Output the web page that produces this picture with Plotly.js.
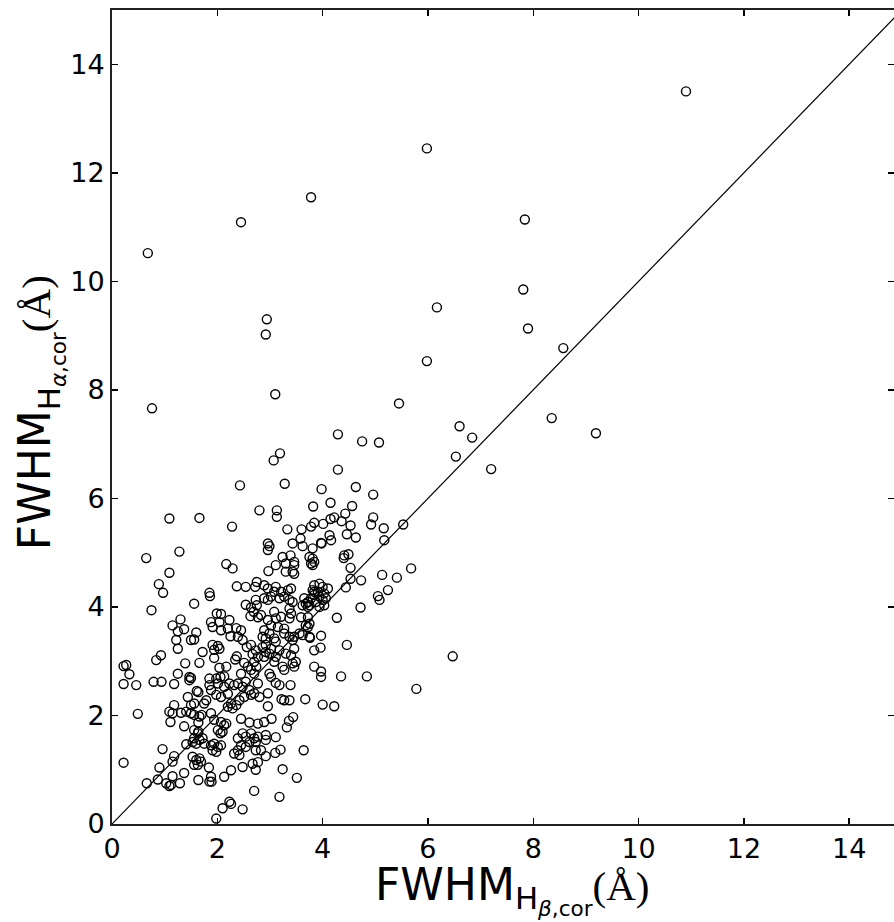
<!DOCTYPE html>
<html>
<head>
<meta charset="utf-8">
<script src="https://cdn.plot.ly/plotly-3.0.1.min.js"></script>
<style>html,body{margin:0;padding:0;background:#fff;}#chart{width:894px;height:922px;}</style>
</head>
<body>
<div id="chart"></div>
<script>
// FWHM of H-beta (corrected), Angstrom
const fwhmHb = [
10.90,5.98,3.78,2.45,7.84,0.68,7.81,6.17,2.94,2.92,7.90,8.57,5.98,3.10,5.45,0.76,8.35,9.19,6.60,6.84,
4.29,4.75,5.07,7.20,6.53,4.29,3.19,3.07,2.43,3.28,4.63,3.98,4.96,6.47,5.78,1.09,1.66,2.28,2.80,3.13,
3.13,3.82,4.15,4.56,4.43,4.96,4.15,4.22,4.01,3.84,4.36,4.53,4.92,5.16,5.53,3.33,3.60,3.78,5.68,
0.65,1.28,1.09,2.17,2.29,0.89,0.97,1.85,1.86,2.37,2.54,2.72,2.75,1.56,0.75,2.54,2.73,2.75,2.64,2.69,
2.63,2.77,1.30,1.15,1.37,1.25,1.60,1.88,1.99,2.07,2.04,1.91,2.23,2.07,2.20,2.25,2.36,2.45,2.39,2.48,
1.22,1.50,1.56,1.25,1.91,2.01,2.04,1.94,2.56,2.64,2.73,2.67,2.77,0.93,0.84,1.72,1.94,1.66,1.39,2.37,
2.34,2.51,2.58,2.70,2.74,0.27,0.22,0.33,1.25,1.47,1.50,2.04,2.17,2.06,2.13,2.45,2.64,2.70,1.85,1.98,
0.22,0.46,0.79,0.94,1.18,1.47,0.49,1.85,1.88,2.01,2.13,1.98,2.07,2.20,2.23,1.44,1.61,1.64,1.56,1.50,
1.75,1.79,2.32,2.39,2.48,2.54,2.61,2.64,2.51,2.42,2.36,2.26,2.20,2.29,2.70,2.77,2.80,1.18,1.09,1.15,
1.31,1.41,1.50,1.56,1.66,1.70,1.11,1.37,1.64,1.64,1.88,1.94,2.07,2.13,2.17,2.10,2.01,2.06,2.45,2.61,
2.77,2.39,2.48,2.54,2.64,2.70,2.77,2.73,2.61,1.56,1.63,1.56,1.66,1.72,1.75,1.41,1.53,1.60,1.88,1.94,
2.01,2.07,1.91,1.98,2.32,2.42,2.39,2.45,2.54,2.26,2.48,2.67,2.73,2.77,0.96,0.22,1.18,1.15,0.90,1.53,
1.60,1.66,1.69,1.63,1.56,1.84,1.88,1.85,1.89,2.13,1.37,1.15,1.03,1.09,1.12,1.29,0.87,0.66,1.64,2.23,
2.26,2.10,2.48,2.70,1.98,2.73,
2.96,3.11,3.18,3.39,2.96,3.22,3.27,3.37,3.67,4.00,4.22,2.89,3.03,3.36,3.44,3.32,2.92,3.11,2.92,2.83,
2.92,3.10,3.20,3.64,3.24,3.51,3.18,
3.58,3.43,3.62,3.81,3.97,3.98,4.13,4.16,4.46,4.63,5.17,2.96,2.99,2.96,3.24,3.39,3.30,3.46,3.46,3.43,
3.46,3.30,3.11,2.97,3.75,3.81,3.84,3.78,3.81,4.41,4.49,4.40,4.53,4.53,4.73,4.44,5.13,5.41,5.24,5.05,
5.08,4.72,4.27,4.46,3.97,3.96,3.84,3.76,
3.84,3.94,4.00,4.10,3.81,3.91,4.03,3.84,3.94,3.78,4.00,3.87,4.03,3.75,3.94,3.84,4.06,3.72,
3.65,3.68,3.72,3.62,3.59,3.72,3.75,3.72,3.68,3.56,3.62,3.46,3.75,
2.89,2.96,3.11,3.08,3.21,3.34,3.40,3.02,3.18,3.27,3.37,3.43,2.89,2.96,3.08,3.11,3.21,3.37,3.40,3.37,
2.83,2.96,3.02,3.15,3.27,2.89,2.86,2.92,2.99,3.08,3.11,3.27,3.37,3.43,3.46,3.40,3.30,3.18,3.02,2.92,
2.86,2.92,2.89,2.99,3.11,3.08,3.24,3.27,3.43,3.49,3.46,2.99,3.02,3.84,3.97,4.35,4.84,3.97
];
// FWHM of H-alpha (corrected), Angstrom
const fwhmHa = [
13.50,12.45,11.55,11.09,11.14,10.52,9.85,9.52,9.30,9.02,9.13,8.77,8.53,7.92,7.75,7.66,7.48,7.20,7.33,7.12,
7.18,7.05,7.03,6.54,6.77,6.53,6.83,6.70,6.24,6.27,6.21,6.17,6.07,3.09,2.49,5.63,5.64,5.48,5.78,5.78,
5.66,5.85,5.92,5.86,5.72,5.65,5.62,5.65,5.53,5.55,5.58,5.50,5.52,5.45,5.52,5.43,5.43,5.48,4.71,
4.90,5.02,4.63,4.79,4.71,4.42,4.26,4.26,4.20,4.38,4.37,4.37,4.46,4.06,3.94,4.04,4.13,4.03,3.99,3.91,
3.83,3.81,3.77,3.66,3.59,3.55,3.53,3.72,3.88,3.87,3.72,3.63,3.76,3.57,3.60,3.46,3.61,3.57,3.45,3.39,
3.39,3.39,3.40,3.23,3.30,3.28,3.23,3.21,3.26,3.30,3.20,3.13,3.08,3.11,3.02,3.17,3.06,2.97,2.96,3.09,
3.03,2.97,2.90,2.99,2.90,2.93,2.91,2.76,2.77,2.71,2.69,2.88,2.90,2.71,2.72,2.77,2.84,2.77,2.68,2.68,
2.58,2.56,2.62,2.62,2.58,2.65,2.03,2.56,2.47,2.59,2.53,2.38,2.34,2.40,2.59,2.34,2.45,2.43,2.22,2.19,
2.22,2.28,2.56,2.59,2.53,2.62,2.47,2.38,2.34,2.28,2.19,2.22,2.16,2.13,2.41,2.59,2.34,2.19,2.07,2.04,
2.05,2.07,2.04,2.01,1.98,2.01,1.88,1.80,1.87,1.70,2.04,1.92,1.88,1.82,1.85,1.70,1.73,1.67,1.94,1.87,
1.85,1.58,1.67,1.61,1.67,1.58,1.61,1.51,1.51,1.73,1.67,1.58,1.55,1.58,1.48,1.47,1.51,1.48,1.45,1.48,
1.42,1.45,1.36,1.33,1.30,1.27,1.36,1.45,1.42,0.99,1.05,1.11,1.00,1.14,1.38,1.13,1.25,1.15,1.04,1.24,
1.18,1.21,1.15,1.09,1.09,1.04,0.87,0.78,0.78,0.87,0.94,0.88,0.75,0.70,0.72,0.75,0.82,0.75,0.81,0.41,
0.37,0.29,0.27,0.61,0.10,1.36,
2.41,2.60,2.56,2.56,2.17,2.30,2.28,2.28,2.30,2.20,2.17,1.88,1.94,1.90,1.97,1.78,1.64,1.60,1.55,1.36,
1.25,1.31,1.37,1.36,1.01,0.85,0.50,
5.26,5.17,5.12,5.08,5.18,5.17,5.32,5.23,5.34,5.28,5.23,5.17,5.12,5.05,4.92,4.95,4.80,4.83,4.77,4.65,
4.61,4.65,4.77,4.66,4.92,4.89,4.83,4.80,4.77,4.95,4.97,4.90,4.72,4.52,4.49,4.36,4.59,4.54,4.31,4.20,
4.13,3.99,3.80,3.30,3.47,3.25,3.20,3.43,
4.40,4.43,4.37,4.34,4.31,4.28,4.25,4.22,4.19,4.16,4.13,4.09,4.03,4.03,4.00,4.28,4.16,4.09,
4.16,4.06,4.00,4.03,3.81,3.81,3.69,3.63,3.66,3.51,3.48,3.45,3.45,
4.40,4.34,4.37,4.28,4.28,4.31,4.34,4.19,4.16,4.19,4.13,4.09,4.16,4.13,3.91,3.79,3.82,3.97,3.88,3.79,
3.85,3.76,3.66,3.63,3.60,3.57,3.45,3.42,3.51,3.42,3.36,3.51,3.45,3.39,3.23,3.11,3.14,3.20,3.23,3.30,
3.26,3.17,3.08,3.14,3.08,2.99,2.90,2.84,2.96,2.99,2.90,2.77,2.71,2.90,2.81,2.72,2.72,2.71
];
// one-to-one reference line
const oneToOneX = [0, 15];
const oneToOneY = [0, 15];
const tickValues = [0, 2, 4, 6, 8, 10, 12, 14];
const tickLabels = ["0", "2", "4", "6", "8", "10", "12", "14"];
const xTitle = 'FWHM<sub>H<sub><i>β</i>,cor</sub></sub><span style="font-family:Liberation Serif;font-size:41px">(Å)</span>';
const yTitle = 'FWHM<sub>H<sub><i>α</i>,cor</sub></sub><span style="font-family:Liberation Serif;font-size:41px">(Å)</span>';

const FONT = "DejaVu Sans, Liberation Sans, sans-serif";

const traces = [
  {
    x: fwhmHb, y: fwhmHa, type: "scatter", mode: "markers",
    marker: {symbol: "circle-open", size: 9, color: "#000", line: {width: 1.4, color: "#000"}},
    showlegend: false, hoverinfo: "x+y", cliponaxis: false
  },
  {
    x: oneToOneX, y: oneToOneY, type: "scatter", mode: "lines",
    line: {color: "#000", width: 1.2}, showlegend: false, hoverinfo: "skip"
  }
];

const axisCommon = {
  tickvals: tickValues, ticktext: tickLabels,
  ticks: "inside", ticklen: 6, tickwidth: 1.5, tickcolor: "#000",
  showline: true, linewidth: 2, linecolor: "#222", mirror: "ticks",
  showgrid: false, zeroline: false,
  tickfont: {family: FONT, size: 27, color: "#000"}
};

const layout = {
  width: 894, height: 922,
  margin: {l: 112, r: 0, t: 10, b: 98},
  paper_bgcolor: "#fff", plot_bgcolor: "#fff",
  font: {family: FONT, color: "#000"},
  xaxis: Object.assign({}, axisCommon, {range: [0, 14.85]}),
  yaxis: Object.assign({}, axisCommon, {range: [0, 15]}),
  annotations: [
    {text: xTitle, xref: "paper", yref: "paper", x: 0.512, y: -0.040,
     xanchor: "center", yanchor: "top", showarrow: false,
     font: {family: FONT, size: 44, color: "#000"}},
    {text: yTitle, xref: "paper", yref: "paper", x: -0.134, y: 0.505,
     xanchor: "left", yanchor: "middle", textangle: -90, showarrow: false,
     font: {family: FONT, size: 44, color: "#000"}}
  ]
};

Plotly.newPlot("chart", traces, layout, {displayModeBar: false, staticPlot: true});
</script>
</body>
</html>
